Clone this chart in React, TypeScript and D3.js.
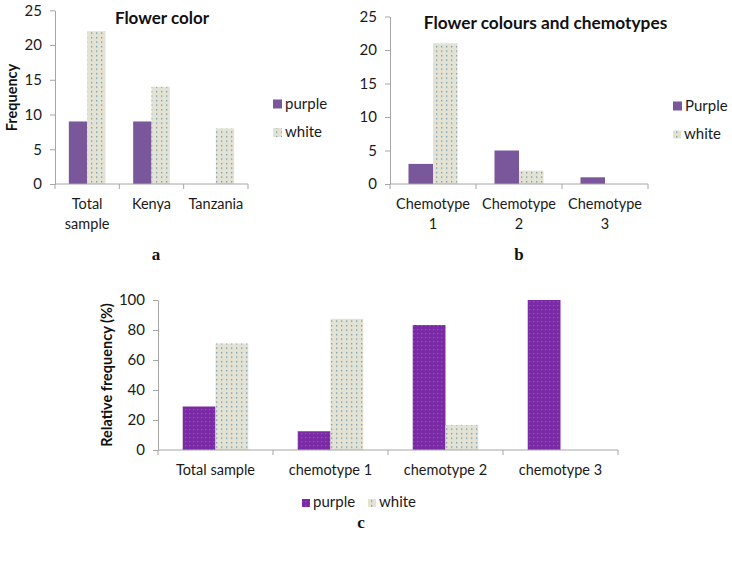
import React, { useRef, useEffect } from 'react';
import * as d3 from 'd3';

const seriesAB = ['purple', 'white'];
const seriesB = ['Purple', 'white'];

const catsA = ['Total sample', 'Kenya', 'Tanzania'];
const purpleA = [9, 9, 0];
const whiteA = [22, 14, 8];

const catsB = ['Chemotype 1', 'Chemotype 2', 'Chemotype 3'];
const purpleB = [3, 5, 1];
const whiteB = [21, 2, 0];

const catsC = ['Total sample', 'chemotype 1', 'chemotype 2', 'chemotype 3'];
const purpleC = [29, 12.5, 83.3, 100];
const whiteC = [71, 87.5, 16.7, 0];

const ticks25 = [0, 5, 10, 15, 20, 25];
const ticks100 = [0, 20, 40, 60, 80, 100];

const FONT = 'Lato, "Open Sans", sans-serif';
const SERIF = '"Liberation Serif", serif';
const AXIS = '#a6a6a6';

const App = () => {
    const ref = useRef<SVGSVGElement>(null);

    useEffect(() => {
        const svg = d3.select(ref.current);
        svg.selectAll('*').remove();

        // patterns
        const defs = svg.append('defs');
        const dots = defs.append('pattern')
            .attr('id', 'dots')
            .attr('patternUnits', 'userSpaceOnUse')
            .attr('width', 5)
            .attr('height', 4.5);
        dots.append('rect').attr('width', 5).attr('height', 4.5).attr('fill', '#e3e2d3');
        dots.append('rect').attr('x', 1).attr('y', 1).attr('width', 1.3).attr('height', 1.3).attr('fill', '#6a9ab2');

        const purpleDots = defs.append('pattern')
            .attr('id', 'pdots')
            .attr('patternUnits', 'userSpaceOnUse')
            .attr('width', 4)
            .attr('height', 4);
        purpleDots.append('rect').attr('width', 4).attr('height', 4).attr('fill', '#7b2aa6');
        purpleDots.append('rect').attr('x', 1).attr('y', 1).attr('width', 1.3).attr('height', 1.3).attr('fill', '#9150c2');

        const panel = (opts) => {
            const { cats, values, fills, x0, x1, yTop, yBottom, max, ticks, wrap, labelY } = opts;
            const g = svg.append('g');

            const y = d3.scaleLinear().domain([0, max]).range([yBottom, yTop]);
            const x = d3.scaleBand().domain(cats).range([x0, x1]).paddingInner(0).paddingOuter(0);
            const bw = x.bandwidth();
            const gap = bw * 0.215;
            const xs = d3.scaleBand().domain(d3.range(values.length).map(String)).range([gap, bw - gap]);

            // y axis
            const yAxis = g.append('g')
                .attr('transform', `translate(${x0},0)`)
                .call(d3.axisLeft(y).tickValues(ticks).tickSize(5).tickPadding(opts.tickPad).tickSizeOuter(0));
            yAxis.select('.domain').attr('stroke', AXIS);
            yAxis.selectAll('.tick line').attr('stroke', AXIS);
            yAxis.selectAll('.tick text')
                .attr('fill', '#1a1a1a')
                .style('font-family', FONT)
                .style('font-size', opts.tickFont + 'px');

            // bars
            values.forEach((vals, si) => {
                g.selectAll(`.bar${si}`)
                    .data(cats.map((c, i) => ({ c, v: vals[i] })))
                    .enter()
                    .append('rect')
                    .attr('x', d => x(d.c) + xs(String(si)))
                    .attr('y', d => y(d.v))
                    .attr('width', xs.bandwidth())
                    .attr('height', d => yBottom - y(d.v))
                    .attr('fill', fills[si]);
            });

            // x axis
            g.append('line')
                .attr('x1', x0).attr('x2', x1)
                .attr('y1', yBottom).attr('y2', yBottom)
                .attr('stroke', AXIS);
            const bounds = cats.map(c => x(c)).concat([x1]);
            g.selectAll('.xt')
                .data(bounds)
                .enter()
                .append('line')
                .attr('x1', d => d).attr('x2', d => d)
                .attr('y1', yBottom).attr('y2', yBottom + 5)
                .attr('stroke', AXIS);

            // category labels
            cats.forEach(c => {
                const lines = wrap && c.includes(' ') ? [c.slice(0, c.lastIndexOf(' ')), c.slice(c.lastIndexOf(' ') + 1)] : [c];
                lines.forEach((t, li) => {
                    g.append('text')
                        .attr('x', x(c) + bw / 2)
                        .attr('y', labelY + li * 19.5)
                        .attr('text-anchor', 'middle')
                        .attr('fill', '#1a1a1a')
                        .style('font-family', FONT)
                        .style('font-size', opts.catFont + 'px')
                        .text(t);
                });
            });
            return g;
        };

        const legendItem = (x, y, fill, label, size) => {
            svg.append('rect').attr('x', x).attr('y', y - size).attr('width', size).attr('height', size).attr('fill', fill);
            svg.append('text')
                .attr('x', x + size + 3)
                .attr('y', y)
                .attr('fill', '#1a1a1a')
                .style('font-family', FONT)
                .style('font-size', '15px')
                .text(label);
        };

        const boldText = (x, y, t, size, rotate = false, family = FONT) => {
            const el = svg.append('text')
                .attr('text-anchor', 'middle')
                .attr('fill', '#111')
                .style('font-family', family)
                .style('font-weight', 'bold')
                .style('font-size', size + 'px')
                .text(t);
            if (rotate) el.attr('transform', `translate(${x},${y}) rotate(-90)`);
            else el.attr('x', x).attr('y', y);
        };

        // panel a
        panel({
            cats: catsA, values: [purpleA, whiteA], fills: ['#7a569b', 'url(#dots)'],
            x0: 55, x1: 248, yTop: 10.3, yBottom: 184, max: 25, ticks: ticks25,
            wrap: true, labelY: 209, tickPad: 8, tickFont: 15, catFont: 14.5
        });
        boldText(162, 24, 'Flower color', 17);
        boldText(17, 97.5, 'Frequency', 14.5, true);
        legendItem(273, 108.5, '#7a569b', seriesAB[0], 9);
        legendItem(273, 137, 'url(#dots)', seriesAB[1], 9);
        boldText(156, 260, 'a', 17, false, SERIF);

        // panel b
        panel({
            cats: catsB, values: [purpleB, whiteB], fills: ['#7a569b', 'url(#dots)'],
            x0: 390, x1: 648, yTop: 16.5, yBottom: 184, max: 25, ticks: ticks25,
            wrap: true, labelY: 209, tickPad: 8, tickFont: 15, catFont: 14.5
        });
        boldText(545.5, 29, 'Flower colours and chemotypes', 17.3);
        legendItem(673, 110.5, '#7a569b', seriesB[0], 9);
        legendItem(673, 138.5, 'url(#dots)', seriesB[1], 8);
        boldText(519, 260, 'b', 17, false, SERIF);

        // panel c
        panel({
            cats: catsC, values: [purpleC, whiteC], fills: ['url(#pdots)', 'url(#dots)'],
            x0: 158, x1: 618, yTop: 300, yBottom: 450, max: 100, ticks: ticks100,
            wrap: false, labelY: 475, tickPad: 8, tickFont: 15, catFont: 14.5
        });
        boldText(112, 375, 'Relative frequency (%)', 14.5, true);
        legendItem(302, 507, 'url(#pdots)', 'purple', 8);
        legendItem(368, 507, 'url(#dots)', 'white', 8);
        boldText(361, 528, 'c', 17, false, SERIF);
    }, []);

    return (
        <svg
            ref={ref}
            width={732}
            height={567}
            style={{ position: 'absolute', left: 0, top: 0, background: '#fff' }}
        />
    );
};

export default App;
